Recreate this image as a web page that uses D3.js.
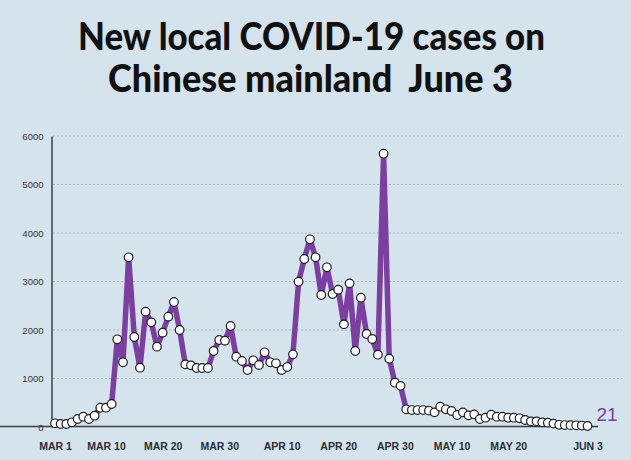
<!DOCTYPE html>
<html>
<head>
<meta charset="utf-8">
<script src="https://cdn.jsdelivr.net/npm/d3@7"></script>
<style>
  body { margin: 0; background: #d5e3ed; }
  svg { display: block; }
</style>
</head>
<body>
<div id="chart"></div>
<script>
// daily new local cases, Mar 1 - Jun 3
const startDate = new Date(2022, 2, 1);
const cases = [
  76, 62, 62, 97, 165, 212, 165, 233, 398, 398,
  474, 1808, 1334, 3499, 1856, 1223, 2378, 2158, 1656, 1945,
  2275, 2577, 2000, 1292, 1271, 1216, 1216, 1216, 1567, 1794,
  1780, 2082, 1450, 1361, 1175, 1375, 1278, 1540, 1334, 1313,
  1175, 1236, 1498, 2996, 3464, 3870, 3499, 2722, 3293, 2742,
  2831, 2117, 2962, 1567, 2666, 1918, 1814, 1491, 5635, 1408,
  913, 848, 365, 350, 350, 350, 337, 302, 419, 365,
  330, 247, 302, 240, 261, 165, 192, 254, 212, 212,
  192, 192, 179, 144, 117, 117, 96, 89, 70, 45,
  40, 38, 35, 30, 21
];
const yTicks = [0, 1000, 2000, 3000, 4000, 5000, 6000];
const xTickDates = [
  [2, 1], [2, 10], [2, 20], [2, 30], [3, 10], [3, 20], [3, 30], [4, 10], [4, 20], [5, 3]
];
const monthNames = ["JAN", "FEB", "MAR", "APR", "MAY", "JUN"];
const titleLines = ["New local COVID-19 cases on", "Chinese mainland  June 3"];

const width = 631, height = 460;
const data = cases.map((v, i) => ({date: d3.timeDay.offset(startDate, i), value: v}));

const svg = d3.select("#chart").append("svg")
    .attr("width", width)
    .attr("height", height);

svg.append("rect").attr("width", width).attr("height", height).attr("fill", "#d5e3ed");

// title (keep the double space with a no-break space)
svg.append("g")
    .attr("font-family", "Lato, 'Open Sans', sans-serif")
    .attr("font-weight", 900)
    .attr("font-size", 38)
    .attr("fill", "#111")
  .selectAll("text")
  .data(titleLines)
  .join("text")
    .attr("x", (d, i) => i == 0 ? 78 : 108)
    .attr("y", (d, i) => i == 0 ? 50 : 92)
    .attr("textLength", (d, i) => i == 0 ? 467 : 405)
    .attr("lengthAdjust", "spacingAndGlyphs")
    .text(d => d.replace("  ", " \u00a0"));

// scales
const x = d3.scaleTime()
    .domain([startDate, d3.timeDay.offset(startDate, cases.length - 1)])
    .range([55, 587.5]);

const y = d3.scaleLinear()
    .domain([0, 6000])
    .range([427, 136]);

// grid lines
svg.append("g")
  .selectAll("line")
  .data(yTicks.slice(1))
  .join("line")
    .attr("x1", 53)
    .attr("x2", 622)
    .attr("y1", d => y(d))
    .attr("y2", d => y(d))
    .attr("stroke", "#a9b6bf")
    .attr("stroke-width", 1)
    .attr("stroke-dasharray", "2,2");

// y axis
const yAxis = d3.axisLeft(y).tickValues(yTicks).tickFormat(d3.format("d")).tickSize(0).tickPadding(8);
svg.append("g")
    .attr("transform", "translate(51.5,0)")
    .call(yAxis)
    .call(g => g.select(".domain").attr("stroke", "#3a3f44").attr("stroke-width", 1.5))
    .call(g => g.selectAll("text")
        .attr("font-family", "'Liberation Sans', Arial, sans-serif")
        .attr("font-size", 9.5)
        .attr("fill", "#333"));

// x axis
const xAxis = d3.axisBottom(x)
    .tickValues(xTickDates.map(d => new Date(2022, d[0], d[1])))
    .tickFormat(d => monthNames[d.getMonth()] + " " + d.getDate())
    .tickSize(0)
    .tickPadding(16);
svg.append("g")
    .attr("transform", "translate(0,426.5)")
    .call(xAxis)
    .call(g => g.select(".domain").attr("d", "M-3.5,0H598").attr("stroke", "#3a3f44").attr("stroke-width", 1.5))
    .call(g => g.selectAll("text")
        .attr("font-family", "'Liberation Sans Narrow', 'Arial Narrow', sans-serif")
        .attr("font-weight", "bold")
        .attr("font-size", 10.5)
        .attr("fill", "#2a2e33"));

// line
const line = d3.line()
    .x(d => x(d.date))
    .y(d => y(d.value));

svg.append("path")
    .datum(data)
    .attr("fill", "none")
    .attr("stroke", "#7a3fa0")
    .attr("stroke-width", 5.5)
    .attr("stroke-linejoin", "round")
    .attr("d", line);

svg.append("g")
  .selectAll("circle")
  .data(data)
  .join("circle")
    .attr("cx", d => x(d.date))
    .attr("cy", d => y(d.value))
    .attr("r", 4.3)
    .attr("fill", "#fff")
    .attr("stroke", "#1e1e1e")
    .attr("stroke-width", 1.2);

// last value label
const last = data[data.length - 1];
svg.append("text")
    .attr("x", x(last.date) + 9)
    .attr("y", 421)
    .attr("font-family", "'Liberation Sans', Arial, sans-serif")
    .attr("font-size", 19)
    .attr("fill", "#7a3fa0")
    .text(last.value);
</script>
</body>
</html>
